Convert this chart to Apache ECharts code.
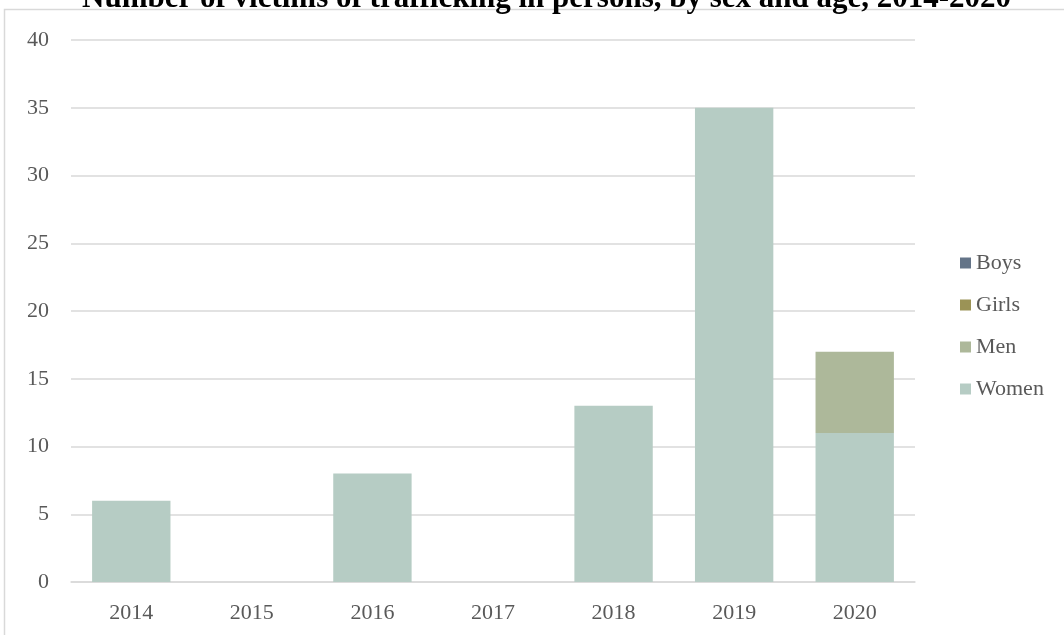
<!DOCTYPE html>
<html>
<head>
<meta charset="utf-8">
<script src="https://cdn.jsdelivr.net/npm/echarts@6/dist/echarts.min.js"></script>
<style>
  html, body { margin: 0; padding: 0; background: #fff; }
  #chart { width: 1064px; height: 635px; }
</style>
</head>
<body>
<div id="chart"></div>
<script>
// chart data
const years = ['2014', '2015', '2016', '2017', '2018', '2019', '2020']
const women = [6, 0, 8, 0, 13, 35, 11]
const men = [0, 0, 0, 0, 0, 0, 6]
const girls = [0, 0, 0, 0, 0, 0, 0]
const boys = [0, 0, 0, 0, 0, 0, 0]

const font = '"Liberation Serif", "Times New Roman", serif'

const chart = echarts.init(document.getElementById('chart'))

function bar(name, data, color) {
  return {
    name: name,
    type: 'bar',
    stack: 'total',
    barWidth: '65%',
    data: data,
    itemStyle: { color: color },
    emphasis: { disabled: true }
  }
}

chart.setOption({
  animation: false,
  textStyle: { fontFamily: font },
  title: {
    text: 'Number of victims of trafficking in persons, by sex and age, 2014-2020',
    left: 77,
    top: -22,
    textStyle: { fontFamily: font, fontSize: 31, fontWeight: 'bold', color: '#000' }
  },
  graphic: [{
    type: 'rect',
    shape: { x: 4.5, y: 9.5, width: 1100, height: 700 },
    style: { fill: 'none', stroke: '#d9d9d9', lineWidth: 1.5 },
    z: -1
  }],
  legend: {
    orient: 'vertical',
    left: 955,
    top: 247,
    itemWidth: 11,
    itemHeight: 11,
    itemGap: 20,
    icon: 'rect',
    textStyle: { fontFamily: font, fontSize: 22, color: '#595959' },
    // legend order as in reference: Boys, Girls, Men, Women
    data: ['Boys', 'Girls', 'Men', 'Women']
  },
  grid: { left: 71, right: 149, top: 40, bottom: 53 },
  xAxis: {
    type: 'category',
    data: years,
    axisTick: { show: false },
    axisLine: { lineStyle: { color: '#d9d9d9', width: 1.5 } },
    axisLabel: { fontFamily: font, fontSize: 22, color: '#595959', margin: 20 }
  },
  yAxis: {
    type: 'value',
    min: 0,
    max: 40,
    interval: 5,
    axisLabel: { fontFamily: font, fontSize: 22, color: '#595959', margin: 22 },
    splitLine: { lineStyle: { color: '#d9d9d9', width: 1.5 } }
  },
  series: [
    bar('Women', women, '#b6ccc4'),
    bar('Men', men, '#adb89a'),
    bar('Girls', girls, '#9b9356'),
    bar('Boys', boys, '#647488')
  ]
})
</script>
</body>
</html>
